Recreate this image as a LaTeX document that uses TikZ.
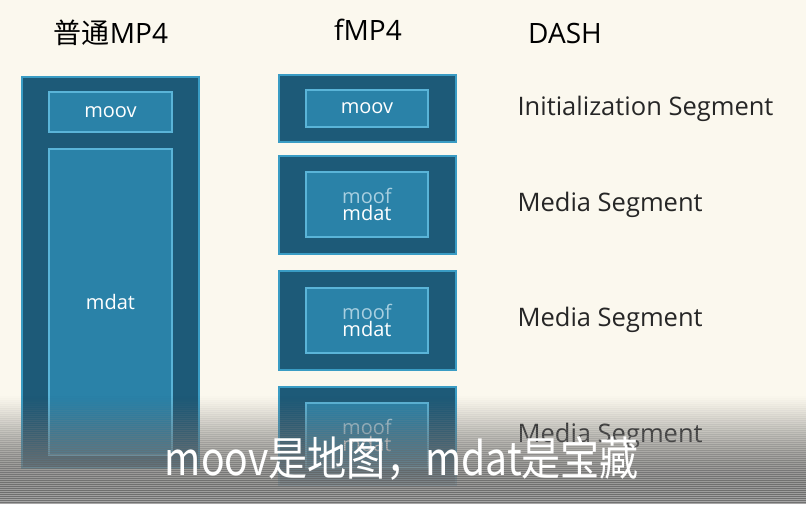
\documentclass[tikz,border=0pt]{standalone}
\usepackage{fontspec}
\setmainfont{Open Sans}
\newfontfamily\cjk{Noto Sans CJK SC}
\definecolor{bg}{HTML}{FBF8EE}
\definecolor{outerc}{HTML}{1D5A78}
\definecolor{outerb}{HTML}{3A9CC4}
\definecolor{innerc}{HTML}{2A82A8}
\definecolor{innerb}{HTML}{5AB4D8}
\definecolor{moofc}{HTML}{A8CFE0}
\definecolor{shade}{HTML}{7F7E78}
\begin{document}
\begin{tikzpicture}[x=1pt,y=-1pt,
  outer/.style={fill=outerc,draw=outerb,line width=1.5pt},
  inner/.style={fill=innerc,draw=innerb,line width=1.5pt,text=white,font=\fontsize{20}{22}\selectfont,align=center},
  title/.style={font=\fontsize{28}{30}\selectfont,text=black},
  seg/.style={font=\fontsize{25.5}{28}\selectfont,anchor=west,text=black!85}]
\fill[bg] (0,0) rectangle (806,504);
\useasboundingbox (0,0) rectangle (806,504);
\node[title] (t1) at (111,33) {{\cjk 普通}MP4};
\node[title] (t2) at (368,30) {fMP4};
\node[title] (t3) at (565,33) {DASH};
\draw[outer] (22,77) rectangle (199,468);
\node[inner,minimum width=123pt,minimum height=40pt] (m1) at (110.5,112) {moov};
\node[inner,minimum width=123pt,minimum height=306pt] (d1) at (110.5,302) {mdat};
\draw[outer] (279,75) rectangle (456,142);
\draw[outer] (279,156) rectangle (456,254);
\draw[outer] (279,271) rectangle (456,370);
\draw[outer] (279,387) rectangle (456,485);
\node[inner,minimum width=122pt,minimum height=37pt] (m2) at (367,108.5) {moov};
\node[inner,minimum width=122pt,minimum height=65pt] (f1) at (367,204.5) {\textcolor{moofc}{moof}\\[-5pt]mdat};
\node[inner,minimum width=122pt,minimum height=65pt] (f2) at (367,320.5) {\textcolor{moofc}{moof}\\[-5pt]mdat};
\node[inner,minimum width=122pt,minimum height=65pt] (f3) at (367,435.5) {\textcolor{moofc}{moof}\\[-5pt]mdat};
\node[seg] (s0) at (514,109) {Initialization Segment};
\node[seg] (s1) at (514,205) {Media Segment};
\node[seg] (s2) at (514,320) {Media Segment};
\node[seg] (s3) at (514,436) {Media Segment};
\foreach \i in {0,...,54} {
  \pgfmathsetmacro{\op}{0.85*(\i/54)^1.3}
  \fill[shade,fill opacity=\op] (0,394+2*\i) rectangle (806,396*1+2*\i);
}
\node[text=white,font=\cjk\fontsize{46}{48}\selectfont\addfontfeature{FakeStretch=0.85}] (sub) at (402,458) {moov是地图，mdat是宝藏};
\end{tikzpicture}
\end{document}
